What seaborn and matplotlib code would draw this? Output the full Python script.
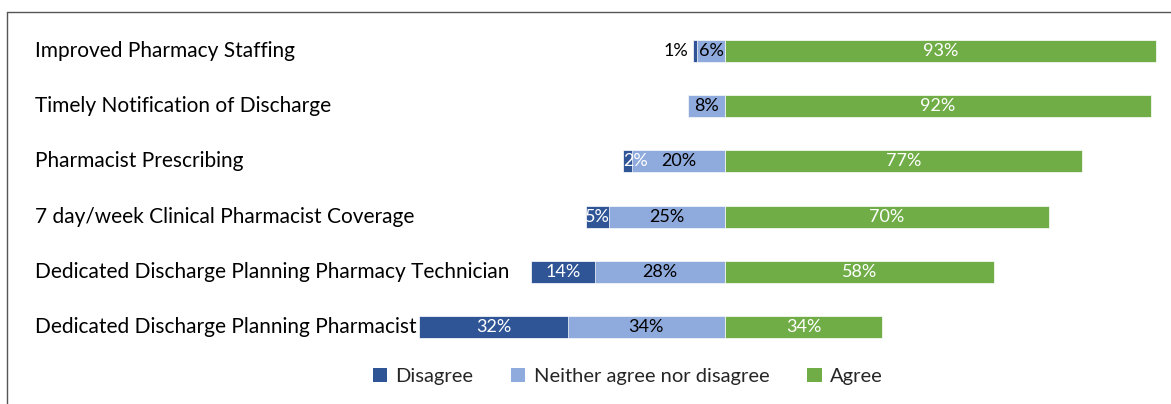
import pandas as pd
import matplotlib
matplotlib.use('Agg')
import matplotlib.pyplot as plt
from matplotlib.lines import Line2D
from matplotlib.patches import Patch
import seaborn as sns

items = [
    'Improved Pharmacy Staffing',
    'Timely Notification of Discharge',
    'Pharmacist Prescribing',
    '7 day/week Clinical Pharmacist Coverage',
    'Dedicated Discharge Planning Pharmacy Technician',
    'Dedicated Discharge Planning Pharmacist',
]
disagree = [1, 0, 2, 5, 14, 32]
neutral = [6, 8, 20, 25, 28, 34]
agree = [93, 92, 77, 70, 58, 34]

series_names = ['Disagree', 'Neither agree nor disagree', 'Agree']
colors = ['#2F5597', '#8FAADC', '#70AD47']

df = pd.DataFrame({
    'item': items,
    'disagree': disagree,
    'neutral': neutral,
    'agree': agree,
})
# left side bars start at 0 and go negative, so disagree is drawn under neutral
df['left_outer'] = -(df['disagree'] + df['neutral'])
df['left_inner'] = -df['neutral']

sns.set_theme(style='white')
plt.rcParams['font.family'] = ['Lato', 'DejaVu Sans']

W, H = 1171, 404
fig = plt.figure(figsize=(W / 100, H / 100), dpi=100)
ax = fig.add_axes([0, 0, 1, 1])

bar_kw = dict(data=df, y='item', orient='h', width=0.4, errorbar=None,
              edgecolor='white', linewidth=0.5, ax=ax)
sns.barplot(x='left_outer', color=colors[0], saturation=1, **bar_kw)
sns.barplot(x='left_inner', color=colors[1], saturation=1, **bar_kw)
sns.barplot(x='agree', color=colors[2], saturation=1, **bar_kw)

zero_px, scale = 725, 4.63  # px per percent
ax.set_xlim(-zero_px / scale, (W - zero_px) / scale)
ax.set_ylim((H - 51) / 55.2, -51 / 55.2)
ax.axis('off')

fs = 13
ytr = ax.get_yaxis_transform()
for i, row in df.iterrows():
    ax.text(35 / W, i, row['item'], transform=ytr, ha='left', va='center',
            fontsize=15, color='black')
    d, n, a = row['disagree'], row['neutral'], row['agree']
    if d > 0:
        if d < 2:
            ax.text(-(n + d) - 1, i, f'{d}%', ha='right', va='center',
                    fontsize=fs, color='black')
        elif d < 4:
            ax.text(-(n + d), i, f'{d}%', ha='left', va='center',
                    fontsize=fs, color='white')
        else:
            ax.text(-(n + d / 2), i, f'{d}%', ha='center', va='center',
                    fontsize=fs, color='white')
    ax.text(-n / 2, i, f'{n}%', ha='center', va='center', fontsize=fs, color='black')
    ax.text(a / 2, i, f'{a}%', ha='center', va='center', fontsize=fs, color='white')

handles = [Patch(facecolor=c, edgecolor='none') for c in colors]
fig.legend(handles, series_names, loc='center', bbox_to_anchor=(0.536, 0.067),
           ncol=3, frameon=False, fontsize=14.5, handlelength=0.7,
           handleheight=0.7, handletextpad=0.4, columnspacing=1.9)

# outer frame (top and left edges)
fig.add_artist(Line2D([7 / W, 1], [1 - 12 / H] * 2, transform=fig.transFigure,
                      color='#555555', lw=1))
fig.add_artist(Line2D([7 / W] * 2, [0, 1 - 12 / H], transform=fig.transFigure,
                      color='#555555', lw=1))

fig.savefig('out.png', dpi=100)
